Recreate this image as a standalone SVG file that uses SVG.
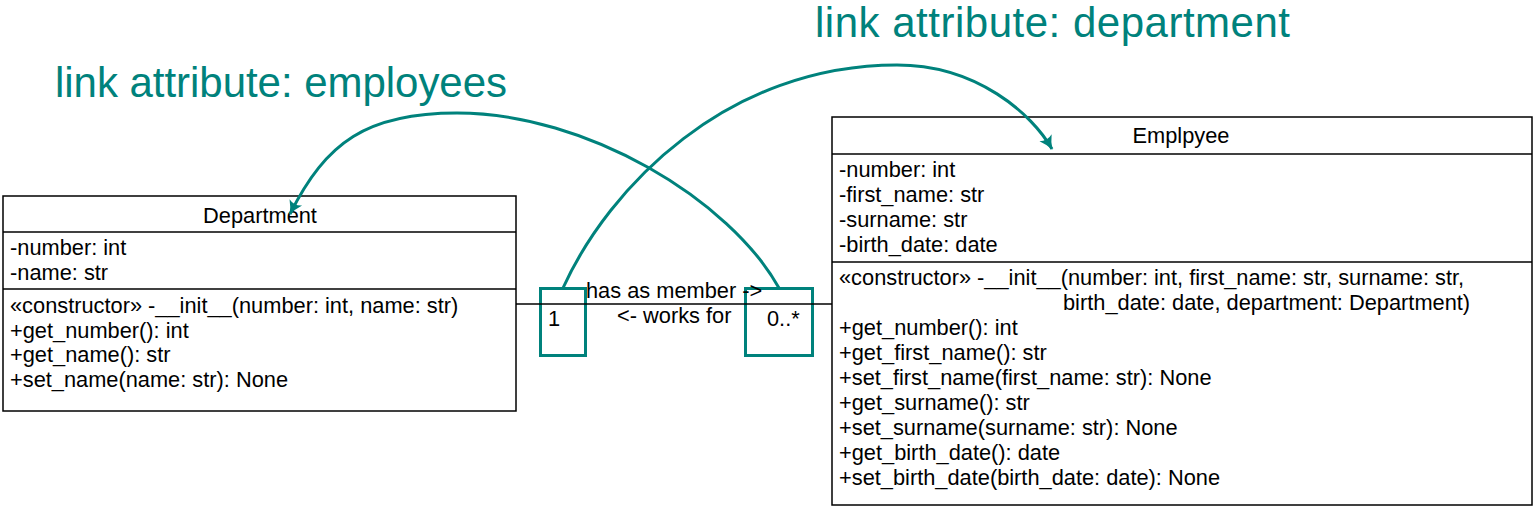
<svg xmlns="http://www.w3.org/2000/svg" width="1537" height="511" viewBox="0 0 1537 511">
  <style>
    .box { fill: #ffffff; stroke: #000000; stroke-width: 1.5; }
    .div { stroke: #000000; stroke-width: 1.5; fill: none; }
    .t { font-family: "Liberation Sans", Arial, sans-serif; font-size: 21.8px; fill: #000000; }
    .tc { text-anchor: middle; }
    .title { font-family: "Liberation Sans", Arial, sans-serif; font-size: 42px; fill: #00827c; }
    .teal { fill: none; stroke: #00827c; stroke-width: 3; }
    .assoc { stroke: #000000; stroke-width: 1.5; fill: none; }
  </style>
  <defs>
    <marker id="arrow" markerUnits="userSpaceOnUse" viewBox="0 0 16 16" refX="14" refY="8" markerWidth="16" markerHeight="16" orient="auto">
      <path d="M15,8 Q7,5.5 1,1 Q5,8 1,15 Q7,10.5 15,8 Z" fill="#00827c"/>
    </marker>
  </defs>
  <rect width="1537" height="511" fill="#ffffff"/>

  <g id="node-department">
    <rect class="box" x="3" y="196" width="513" height="215"/>
    <line class="div" x1="3" y1="232" x2="516" y2="232"/>
    <line class="div" x1="3" y1="289" x2="516" y2="289"/>
    <text class="t tc" x="260" y="223">Department</text>
    <text class="t" x="10" y="255">-number: int</text>
    <text class="t" x="10" y="280">-name: str</text>
    <text class="t" x="10" y="313">«constructor» -__init__(number: int, name: str)</text>
    <text class="t" x="10" y="338">+get_number(): int</text>
    <text class="t" x="10" y="362">+get_name(): str</text>
    <text class="t" x="10" y="387">+set_name(name: str): None</text>
  </g>

  <g id="node-employee">
    <rect class="box" x="832" y="117" width="700" height="388"/>
    <line class="div" x1="832" y1="154" x2="1532" y2="154"/>
    <line class="div" x1="832" y1="262" x2="1532" y2="262"/>
    <text class="t tc" x="1181" y="143">Emplpyee</text>
    <text class="t" x="839" y="177">-number: int</text>
    <text class="t" x="839" y="202">-first_name: str</text>
    <text class="t" x="839" y="227">-surname: str</text>
    <text class="t" x="839" y="252">-birth_date: date</text>
    <text class="t" x="839" y="285">«constructor» -__init__(number: int, first_name: str, surname: str,</text>
    <text class="t" x="1063" y="310">birth_date: date, department: Department)</text>
    <text class="t" x="839" y="335">+get_number(): int</text>
    <text class="t" x="839" y="360">+get_first_name(): str</text>
    <text class="t" x="839" y="385">+set_first_name(first_name: str): None</text>
    <text class="t" x="839" y="410">+get_surname(): str</text>
    <text class="t" x="839" y="435">+set_surname(surname: str): None</text>
    <text class="t" x="839" y="460">+get_birth_date(): date</text>
    <text class="t" x="839" y="485">+set_birth_date(birth_date: date): None</text>
  </g>

  <g id="connectors">
    <rect class="teal" x="540.5" y="288.5" width="45" height="67"/>
    <rect class="teal" x="745.5" y="288.5" width="67" height="67"/>
    <line class="assoc" x1="516" y1="304" x2="832" y2="304"/>
    <text class="t" x="586" y="298">has as member -&gt;</text>
    <text class="t" x="617" y="323">&lt;- works for</text>
    <text class="t" x="548" y="326">1</text>
    <text class="t" x="767" y="326">0..*</text>
    <path class="teal" d="M563,288 C609,187 727,65 897,65 C977,65 1032,114 1052,149" marker-end="url(#arrow)"/>
    <path class="teal" d="M779,288 C730,200 587,113 457,113 C367,113 326,142 290,214" marker-end="url(#arrow)"/>
  </g>

  <g id="annotations">
    <text class="title" x="815" y="37" textLength="475">link attribute: department</text>
    <text class="title" x="55" y="97" textLength="452">link attribute: employees</text>
  </g>
</svg>
